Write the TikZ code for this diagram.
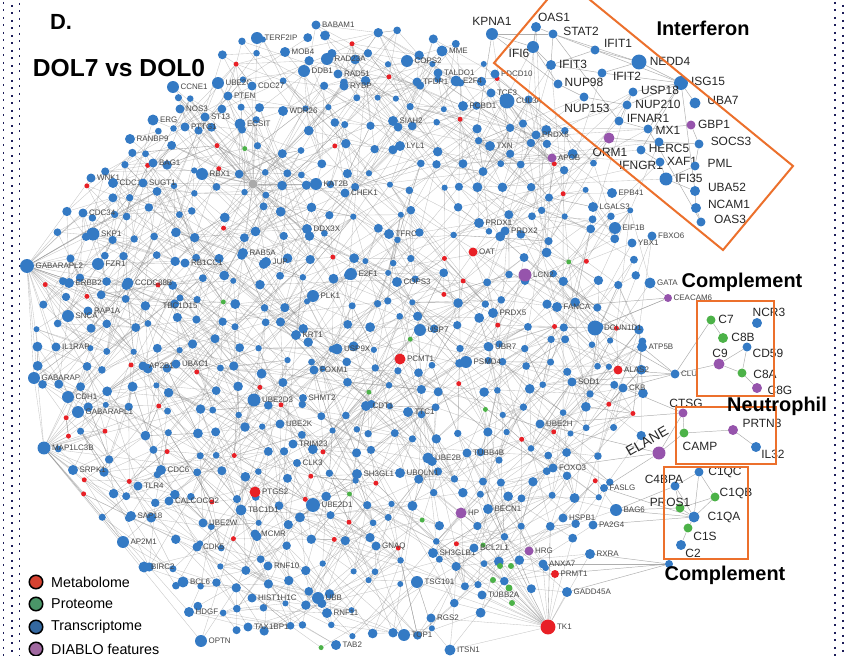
\documentclass[tikz,border=0pt]{standalone}
\usepackage{fontspec}
\setmainfont{Liberation Sans}
\usepackage{tikz}
\usetikzlibrary{backgrounds}
\definecolor{txCol}{RGB}{52,122,196}
\definecolor{metCol}{RGB}{232,32,38}
\definecolor{protCol}{RGB}{76,178,72}
\definecolor{diaCol}{RGB}{150,84,172}
\definecolor{hubCol}{RGB}{170,170,170}
\definecolor{boxCol}{RGB}{236,112,44}
\definecolor{frameCol}{RGB}{30,30,90}
\definecolor{legMet}{RGB}{214,66,48}
\definecolor{legProt}{RGB}{74,150,104}
\definecolor{legTx}{RGB}{52,104,160}
\definecolor{legDia}{RGB}{160,104,160}
\tikzset{
  dot/.style={circle, inner sep=0pt, minimum size=#1*0.85pt},
  slbl/.style={font=\fontsize{6.8}{7}\selectfont, text=black!72, inner sep=1pt},
  mlbl/.style={font=\fontsize{10.2}{11}\selectfont, text=black!85, inner sep=0pt},
  head/.style={font=\fontsize{17}{18}\selectfont\bfseries, inner sep=0pt},
  legtxt/.style={font=\fontsize{12.2}{13}\selectfont, anchor=west, inner sep=0pt},
  legdot/.style={circle, draw=black, line width=1.3pt, minimum size=11.5pt, inner sep=0pt},
  edge/.style={black!45, line width=0.3pt, opacity=0.5},
  bedge/.style={black!45, line width=0.4pt, opacity=0.7},
  setbox/.style={draw=boxCol, line width=1.7pt},
  frame/.style={frameCol, line width=1.6pt, dash pattern=on 1.6pt off 4.8pt},
}

% labelled nodes, small labels: name/x/y/size/colour (pixel positions)
\def\smalllist{TERF2IP/257/38/12/txCol, BABAM1/316/25/9/txCol, MOB4/285/52/10/txCol,
  RAD23A/327/59/12/txCol, DDB1/304/71/12/txCol, RAD51/338/74/9/txCol, RYBP/344/86/9/txCol,
  COPS2/407/61/12/txCol, MME/442/51/11/txCol, TALDO1/438/73/9/txCol, TFDP1/417/82/9/txCol,
  E2F4/456/81/11/txCol, PDCD10/495/74/9/txCol, TCF3/491/93/9/txCol, CUL3A/507/101/15/txCol,
  PCBD1/463/106/10/txCol, WDR26/283/111/10/txCol, SIAH2/393/121/10/txCol, LYL1/400/146/10/txCol,
  TXN/490/146/10/txCol, KAT2B/316/184/12/txCol, CHEK1/345/193/9/txCol, CCNE1/173/87/12/txCol,
  UBE2C/218/83/12/txCol, CDC27/252/86/9/txCol, PTEN/228/96/9/txCol, NOS3/180/109/9/txCol,
  ST13/205/117/9/txCol, ERG/153/120/11/txCol, PTTG1/185/127/9/txCol, ECSIT/240/124/11/txCol,
  RANBP9/130/139/10/txCol, BAG1/153/163/9/txCol, RBX1/202/174/12/txCol, WNK1/91/178/9/txCol,
  CDC10/113/183/10/txCol, SUGT1/143/183/9/txCol, CDC34/83/213/9/txCol, SKP1/93/234/13/txCol,
  GABARAPL2/27/266/14/txCol, FZR1/98/264/12/txCol, ERBB2/69/283/10/txCol, CCDC88B/128/283/11/txCol,
  RB1CC1/185/263/9/txCol, RAB5A/243/253/10/txCol, JUP/266/262/10/txCol, RAP1A/88/311/9/txCol,
  SNCA/68/316/12/txCol, IL1RAP/56/347/9/txCol, AP2B1/143/366/9/txCol, UBAC1/176/364/9/txCol,
  GABARAP/34/378/12/txCol, CDH1/68/397/12/txCol, GABARAPL1/78/412/12/txCol, UBE2D3/254/400/13/txCol,
  DDX3X/307/229/10/txCol, TFRC/389/234/10/txCol, PRDX1/479/223/10/txCol, PRDX2/505/231/9/txCol,
  E2F1/351/274/12/txCol, COPS3/397/282/10/txCol, PLK1/313/296/12/txCol, PRDX5/493/313/10/txCol,
  USP7/420/330/12/txCol, KRT1/296/335/10/txCol, USP9X/337/349/11/txCol, UBR7/489/347/9/txCol,
  PSMD4/466/362/12/txCol, FOXM1/314/370/9/txCol, SHMT2/303/398/8/txCol, CDT1/366/406/10/txCol,
  TTC1/408/412/10/txCol, UBE2K/280/424/9/txCol, TRIM23/293/444/9/txCol, CLK3/297/463/8/txCol,
  UBE2B/428/458/11/txCol, TUBB4B/467/453/9/txCol, SH3GL1/357/474/10/txCol, UBQLN1/400/473/10/txCol,
  UBE2D1/313/505/14/txCol, BECN1/488/509/10/txCol, GNAQ/376/546/9/txCol, SH3GLB1/433/553/10/txCol,
  BCL2L1/474/548/9/txCol, RNF10/268/566/9/txCol, TSG101/417/582/12/txCol, TUBB2A/482/595/9/txCol,
  HIST1H1C/252/598/9/txCol, UBB/318/598/12/txCol, RNF11/327/613/10/txCol, RGS2/431/618/9/txCol,
  TAX1BP1/248/627/9/txCol, TOP1/404/635/12/txCol, TAB2/336/645/10/txCol, ITSN1/450/650/11/txCol,
  MAP1LC3B/44/448/13/txCol, SRPK1/73/470/10/txCol, CDC6/161/470/10/txCol, TLR4/138/486/9/txCol,
  CALCOCO2/169/501/9/txCol, TBC1D1/241/510/11/txCol, SAP18/131/516/10/txCol, UBE2W/203/523/9/txCol,
  AP2M1/123/542/12/txCol, CDK5/197/547/9/txCol, MCMR/255/534/9/txCol, BIRC2/144/567/11/txCol,
  BCL6/183/582/11/txCol, HDGF/189/612/10/txCol, OPTN/201/641/12/txCol, EIF1B/615/228/12/txCol,
  YBX1/632/243/9/txCol, FBXO6/652/236/9/txCol, EPB41/612/193/10/txCol, LGALS3/593/207/10/txCol,
  PRDX6/536/135/9/txCol, FANCA/557/307/10/txCol, DCUN1D1/595/328/15/txCol, ATP5B/642/347/10/txCol,
  SOD1/572/382/9/txCol, CKB/623/388/9/txCol, UBE2H/540/424/9/txCol, FOXO3/553/468/9/txCol,
  FASLG/604/488/8/txCol, BAG6/616/510/12/txCol, HSPB1/563/518/9/txCol, PA2G4/593/525/9/txCol,
  RXRA/590/554/10/txCol, ANXA7/543/564/9/txCol, GADD45A/567/592/10/txCol, GATA/650/283/11/txCol,
  CLU/675/374/9/txCol, OAT/473/252/9/metCol, PCMT1/400/359/11/metCol, ALAS2/618/370/9/metCol,
  PTGS2/255/492/11/metCol, PRMT1/555/574/8/metCol, TK1/548/627/15/metCol, LCN2/525/275/13/diaCol,
  APOB/552/158/9/diaCol, HP/461/513/11/diaCol, HRG/529/551/9/diaCol, CEACAM6/668/298/8/diaCol}

% labelled nodes, large labels: name/x/y/size/colour/label x/label y
\def\biglist{KPNA1/492/34/12/txCol/492/21, OAS1/536/27/10/txCol/554/17, STAT2/553/34/9/txCol/581/31,
  IFI6/533/47/12/txCol/519/53, IFIT1/595/50/9/txCol/618/43, NEDD4/639/62/15/txCol/670/61,
  IFIT3/551/65/10/txCol/573/64, IFIT2/602/73/9/txCol/627/76, NUP98/558/84/9/txCol/584/82,
  ISG15/681/83/14/txCol/708/81, USP18/633/92/9/txCol/660/90, NUP210/627/105/9/txCol/658/104,
  UBA7/695/103/11/txCol/723/100, NUP153/584/97/9/txCol/587/108, IFNAR1/619/121/9/txCol/648/118,
  GBP1/691/125/9/diaCol/714/124, MX1/648/129/9/txCol/668/130, SOCS3/699/144/9/txCol/731/141,
  ORM1/609/138/11/diaCol/610/152, HERC5/641/150/9/txCol/669/148, IFNGR1/659/142/9/txCol/641/165,
  XAF1/660/162/9/txCol/682/161, PML/695/166/9/txCol/720/163, IFI35/666/179/13/txCol/689/178,
  UBA52/695/191/10/txCol/727/187, NCAM1/696/208/10/txCol/729/204, OAS3/701/222/9/txCol/730/219,
  C7/711/320/9/protCol/726/319, NCR3/757/323/10/txCol/769/312, C8B/723/338/10/protCol/743/337,
  CD59/747/347/9/txCol/768/353, C9/719/364/11/diaCol/720/353, C8A/742/373/9/protCol/765/374,
  C8G/757/388/10/diaCol/780/390, CTSG/683/413/9/diaCol/686/403, CAMP/684/433/9/protCol/700/446,
  PRTN3/733/430/10/diaCol/762/423, IL32/756/447/10/txCol/773/454, C1QC/699/472/9/txCol/725/472,
  C4BPA/675/486/9/txCol/664/479, C1QB/715/497/9/protCol/736/493, PROS1/680/508/9/protCol/670/502,
  C1QA/694/517/11/txCol/724/517, C1S/688/528/9/protCol/705/536, C2/681/545/10/txCol/693/553}

\begin{document}
\begin{tikzpicture}[x=0.03cm, y=-0.03cm]
  \useasboundingbox (0,0) rectangle (846,656);
  \begin{scope}[on background layer]
    \fill[white] (0,0) rectangle (846,656);
  \end{scope}
  % page edges
  \draw[frame] (3.5,2) -- (3.5,656);
  \draw[frame] (12,5) -- (12,656);
  \draw[frame] (19.5,3) -- (19.5,656);
  \draw[frame] (835,2) -- (835,656);
  \draw[frame] (843,5) -- (843,656);

  % unlabelled nodes on a jittered grid
  \pgfmathsetseed{2718}
  \foreach \ri in {0,...,29}{
    \foreach \ci in {0,...,29}{
      \pgfmathsetmacro\gx{20+\ci*22+rand*7}
      \pgfmathsetmacro\gy{15+\ri*22+rand*7}
      \pgfmathtruncatemacro\keep{(veclen((\gx-345)/100,(\gy-335)/100)<3.15) && (\gy<452+(\gx-44)*1.23) && (\gy>225-(\gx-40)) && (\gx<650) && (\gy>71+(\gx-494)*0.817) && ((\gx>215) || (\gy>90)) && (rnd<0.88)}
      \ifnum\keep=1
        \pgfmathsetmacro\kind{rnd}
        \ifdim\kind pt<0.1pt
          \node[dot=5, fill=metCol] (g-\ri-\ci) at (\gx,\gy) {};
        \else\ifdim\kind pt<0.125pt
          \node[dot=5, fill=protCol] (g-\ri-\ci) at (\gx,\gy) {};
        \else
          \pgfmathsetmacro\sz{6+rnd*4}
          \node[dot=\sz, fill=txCol] (g-\ri-\ci) at (\gx,\gy) {};
        \fi\fi
      \fi
    }
  }

  % grey hub and a few loose nodes
  \node[dot=9, fill=hubCol] (hub) at (253,184) {};
  \node[dot=8, fill=txCol] (cdot) at (669,564) {};
  \node[dot=6, fill=protCol] (gc1) at (500,566) {};
  \node[dot=6, fill=protCol] (gc2) at (511,566) {};
  \node[dot=6, fill=protCol] (gc3) at (493,580) {};
  \node[dot=7, fill=protCol] (gc4) at (509,588) {};
  \node[dot=6, fill=protCol] (gc5) at (512,603) {};

  % labelled nodes
  \foreach \nm/\px/\py/\ds/\col in \smalllist{
    \node[dot=\ds, fill=\col] (\nm) at (\px,\py) {};
    \node[slbl, anchor=west] (l-\nm) at (\nm.east) {\nm};
  }
  \node[dot=7, fill=txCol] (TBC1D15) at (180,298) {};
  \node[slbl, anchor=north] (l-TBC1D15) at (TBC1D15.south) {TBC1D15};
  \foreach \nm/\px/\py/\ds/\col/\lx/\ly in \biglist{
    \node[dot=\ds, fill=\col] (\nm) at (\px,\py) {};
    \node[mlbl] (l-\nm) at (\lx,\ly) {\nm};
  }
  \node[dot=13, fill=diaCol] (ELANE) at (659,453) {};
  \node[mlbl, font=\fontsize{12}{13}\selectfont, rotate=30] (l-ELANE) at (647,441) {ELANE};

  % connectors
  \begin{scope}[on background layer]
    \foreach \ri in {0,...,29}{
      \foreach \ci in {0,...,29}{
        \ifcsname pgf@sh@ns@g-\ri-\ci\endcsname
          \foreach \k in {1,...,4}{
            \pgfmathtruncatemacro\rr{\ri+round(rand*3.6)}
            \pgfmathtruncatemacro\cc{\ci+round(rand*3.6)}
            \ifcsname pgf@sh@ns@g-\rr-\cc\endcsname
              \draw[edge] (g-\ri-\ci) -- (g-\rr-\cc);
            \fi
          }
        \fi
      }
    }
    % long links
    \foreach \k in {1,...,480}{
      \pgfmathtruncatemacro\ra{int(rnd*30)}
      \pgfmathtruncatemacro\ca{int(rnd*30)}
      \pgfmathtruncatemacro\rb{\ra+round(rand*10)}
      \pgfmathtruncatemacro\cb{\ca+round(rand*10)}
      \ifcsname pgf@sh@ns@g-\ra-\ca\endcsname\ifcsname pgf@sh@ns@g-\rb-\cb\endcsname
        \draw[edge] (g-\ra-\ca) -- (g-\rb-\cb);
      \fi\fi
    }
    % labelled nodes into the network
    \foreach \nm/\px/\py/\ds/\col in \smalllist{
      \pgfmathtruncatemacro\rz{round((\py-15)/22)}
      \pgfmathtruncatemacro\cz{round((\px-20)/22)}
      \foreach \k in {1,...,5}{
        \pgfmathtruncatemacro\rr{\rz+round(rand*4)}
        \pgfmathtruncatemacro\cc{\cz+round(rand*4)}
        \ifcsname pgf@sh@ns@g-\rr-\cc\endcsname
          \draw[edge] (\nm) -- (g-\rr-\cc);
        \fi
      }
    }
    \foreach \nm in {KPNA1,OAS1,IFI6,IFIT3,NUP98,NUP153,IFNAR1,ORM1,IFNGR1,HERC5,XAF1,IFI35,MX1,USP18,NUP210,IFIT2}{
      \foreach \k in {1,2,3}{
        \pgfmathtruncatemacro\rr{4+round(rnd*7)}
        \pgfmathtruncatemacro\cc{19+round(rnd*9)}
        \ifcsname pgf@sh@ns@g-\rr-\cc\endcsname
          \draw[edge] (\nm) -- (g-\rr-\cc);
        \fi
      }
    }
    % fans from the big hubs
    \foreach \k in {1,...,22}{
      \pgfmathtruncatemacro\rr{8+round(rnd*10)}
      \pgfmathtruncatemacro\cc{1+round(rnd*7)}
      \ifcsname pgf@sh@ns@g-\rr-\cc\endcsname
        \draw[edge] (GABARAPL2) -- (g-\rr-\cc);
      \fi
      \pgfmathtruncatemacro\rr{16+round(rnd*8)}
      \pgfmathtruncatemacro\cc{1+round(rnd*8)}
      \ifcsname pgf@sh@ns@g-\rr-\cc\endcsname
        \draw[edge] (MAP1LC3B) -- (g-\rr-\cc);
      \fi
      \pgfmathtruncatemacro\rr{22+round(rnd*7)}
      \pgfmathtruncatemacro\cc{17+round(rnd*8)}
      \ifcsname pgf@sh@ns@g-\rr-\cc\endcsname
        \draw[edge] (TK1) -- (g-\rr-\cc);
      \fi
      \pgfmathtruncatemacro\rr{4+round(rnd*8)}
      \pgfmathtruncatemacro\cc{6+round(rnd*8)}
      \ifcsname pgf@sh@ns@g-\rr-\cc\endcsname
        \draw[edge] (hub) -- (g-\rr-\cc);
      \fi
    }
    \foreach \a in {SKP1,FZR1,ERBB2,SNCA,RAP1A,CDC34,IL1RAP,GABARAP,CCDC88B,RB1CC1,CDC10,WNK1,MAP1LC3B,CDH1}
      \draw[edge] (GABARAPL2) -- (\a);
    \foreach \a in {SRPK1,GABARAP,CDH1,GABARAPL1,AP2M1,BIRC2,TLR4,OPTN,HDGF,SAP18}
      \draw[edge] (MAP1LC3B) -- (\a);
    \foreach \a in {TUBB2A,GADD45A,RGS2,ITSN1,HRG,ANXA7,gc1,gc2,gc3,gc4,gc5,BCL2L1,TSG101,PRMT1,RXRA,BECN1}
      \draw[edge] (TK1) -- (\a);
    \foreach \a in {RBX1,ECSIT,KAT2B,BAG1,SUGT1,DDB1,TERF2IP,CHEK1,CDC27,PTEN,WDR26,RAB5A,JUP,DDX3X,ST13,PTTG1}
      \draw[edge] (hub) -- (\a);
    % links inside the boxed sets
    \foreach \a/\b in {OAS1/STAT2, OAS1/IFI6, STAT2/IFIT1, STAT2/IFIT3, IFI6/IFIT3, IFIT1/NEDD4,
        IFIT1/IFIT3, IFIT3/IFIT2, IFIT2/NEDD4, NEDD4/ISG15, ISG15/USP18, ISG15/UBA7, ISG15/IFIT2,
        ISG15/HERC5, ISG15/UBA52, ISG15/NUP210, USP18/IFNAR1, NUP98/NUP153, NUP153/NUP210,
        IFNAR1/MX1, MX1/GBP1, GBP1/SOCS3, HERC5/XAF1, XAF1/IFI35, IFI35/PML, IFI35/UBA52,
        UBA52/NCAM1, NCAM1/OAS3, IFNGR1/SOCS3, ORM1/IFNGR1, STAT2/IFNAR1, STAT2/NEDD4, MX1/OAS3,
        PML/SOCS3, KPNA1/STAT2, KPNA1/IFI6, NUP98/KPNA1, IFIT1/ISG15, IFI6/NUP98, MX1/ISG15,
        CLU/C7, CLU/C9, C9/C8A, C8A/CD59, C8A/C8G, C9/CD59, C7/C8B,
        CTSG/CAMP, CAMP/PRTN3, PRTN3/IL32, ELANE/CAMP, ELANE/CTSG,
        C1QC/C1QB, C1QC/C1QA, C4BPA/C1QA, C4BPA/PROS1, PROS1/C1QB, C1QA/C1QB, C1QA/C1S,
        C1S/C2, PROS1/C1QA, C1QC/C4BPA,
        BAG6/C1QA, BAG6/C4BPA, FASLG/C1QA, PA2G4/C1QA, FASLG/ELANE, BAG6/PROS1,
        cdot/PRMT1, cdot/ANXA7, cdot/GADD45A, cdot/RXRA, ELANE/FOXO3, ELANE/UBE2H,
        CLU/CKB, CLU/ATP5B, CLU/SOD1, CLU/ALAS2, CLU/DCUN1D1, CEACAM6/GATA, CEACAM6/DCUN1D1,
        CEACAM6/FANCA, CTSG/UBE2H, CTSG/CKB}
      \draw[bedge] (\a) -- (\b);
  \end{scope}

  % set boxes
  \begin{scope}
    \clip (0,0) rectangle (846,656);
    \draw[setbox] (494,63) -- (564.5,-21) -- (793,166) -- (723,250) -- cycle;
  \end{scope}
  \draw[setbox] (697,301) rectangle (774,396);
  \draw[setbox] (676,407) rectangle (776,464);
  \draw[setbox] (664,467) rectangle (748,559);

  % headings
  \node[font=\fontsize{18.7}{20}\selectfont\bfseries, inner sep=0pt] (panel) at (61,22) {D.};
  \node[font=\fontsize{21}{22}\selectfont\bfseries, inner sep=0pt] (title) at (119,68) {DOL7 vs DOL0};
  \node[head] (h-ifn) at (703,28) {Interferon};
  \node[head] (h-comp1) at (742,282) {Complement};
  \node[head] (h-neut) at (777,406) {Neutrophil};
  \node[head] (h-comp2) at (725,575) {Complement};

  % legend
  \node[legdot, fill=legMet] (leg-met) at (36,582) {};
  \node[legtxt] (leg-met-t) at (51,582) {Metabolome};
  \node[legdot, fill=legProt] (leg-prot) at (36,604) {};
  \node[legtxt] (leg-prot-t) at (51,604) {Proteome};
  \node[legdot, fill=legTx] (leg-tx) at (36,627) {};
  \node[legtxt] (leg-tx-t) at (51,627) {Transcriptome};
  \node[legdot, fill=legDia] (leg-dia) at (36,649) {};
  \node[legtxt] (leg-dia-t) at (51,649) {DIABLO features};
\end{tikzpicture}
\end{document}
